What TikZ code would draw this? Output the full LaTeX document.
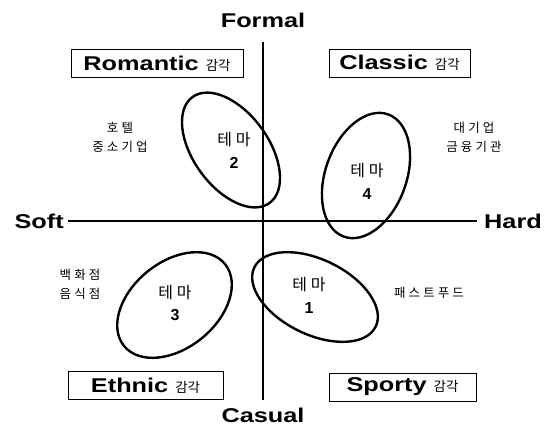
\documentclass[tikz,border=0pt]{standalone}
\usepackage{fontspec}
\setmainfont{Liberation Sans}
\newfontfamily\widesans{Liberation Sans}[FakeStretch=1.27]
\newfontfamily\kor{Noto Sans CJK KR}
\newfontfamily\korsp{Noto Sans CJK KR}[LetterSpace=25]
\usetikzlibrary{shapes.geometric, positioning}

\begin{document}
\begin{tikzpicture}[
            x=1bp, y=-1bp,
            axislabel/.style={font=\widesans\bfseries\fontsize{20}{22}\selectfont, inner sep=0pt},
            mood/.style={rectangle, draw, line width=0.8bp, minimum height=28bp, inner sep=0pt, font=\widesans\bfseries\fontsize{20}{22}\selectfont},
            theme/.style={ellipse, draw, line width=2.4bp, inner sep=0pt},
            themetext/.style={align=center, inner sep=0pt, font=\fontsize{16}{23}\selectfont},
            biz/.style={align=center, inner sep=0pt, font=\korsp\fontsize{12.5}{19}\selectfont},
            axis/.style={line width=1.2bp}
        ]
            \useasboundingbox (0,0) rectangle (552,429);

            % Axis labels
            \node[axislabel] (formal) at (263,20) {Formal};
            \node[axislabel] (casual) at (263,415) {Casual};
            \node[axislabel, anchor=east] (soft) at (64,221) {Soft};
            \node[axislabel, anchor=west] (hard) at (484,221) {Hard};

            % Axes
            \draw[axis, shorten <=14bp, shorten >=7bp] (formal) -- (casual);
            \draw[axis, shorten <=4bp, shorten >=7bp] (soft) -- (hard);

            % Mood boxes
            \node[mood, minimum width=172bp] (romantic) at (157,63.5) {Romantic {\kor\mdseries\fontsize{13.5}{15}\selectfont 감각}};
            \node[mood, minimum width=141bp] (classic) at (399.5,63) {Classic {\kor\mdseries\fontsize{13.5}{15}\selectfont 감각}};
            \node[mood, minimum width=155bp] (ethnic) at (145.5,385.5) {Ethnic {\kor\mdseries\fontsize{13.5}{15}\selectfont 감각}};
            \node[mood, minimum width=147bp] (sporty) at (402.5,387) {Sporty {\kor\mdseries\fontsize{13.5}{15}\selectfont 감각}};

            % Theme ellipses
            \node[theme, minimum width=131bp, minimum height=75bp, rotate=126] (e2) at (231,150) {};
            \node[theme, minimum width=130bp, minimum height=81bp, rotate=70] (e4) at (366,175.5) {};
            \node[theme, minimum width=130bp, minimum height=86bp, rotate=39] (e3) at (174.5,305) {};
            \node[theme, minimum width=135bp, minimum height=75bp, rotate=-26] (e1) at (315,297) {};

            \node[themetext] (t2) at (234,150) {{\korsp 테마}\\\textbf{2}};
            \node[themetext] (t4) at (367,181) {{\korsp 테마}\\\textbf{4}};
            \node[themetext] (t3) at (175,303) {{\korsp 테마}\\\textbf{3}};
            \node[themetext] (t1) at (309,295) {{\korsp 테마}\\\textbf{1}};

            % Business types
            \node[biz] (hotel) at (120,137.5) {호텔\\중소기업};
            \node[biz] (corp) at (474,137.5) {대기업\\금융기관};
            \node[biz] (dept) at (80,284) {백화점\\음식점};
            \node[biz] (fast) at (429,293) {패스트푸드};
        \end{tikzpicture}
\end{document}
